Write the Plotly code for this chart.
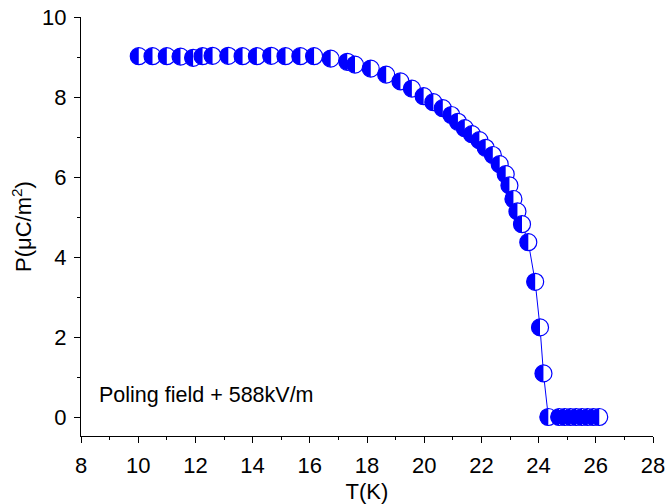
import plotly.graph_objects as go

T = [10.02, 10.5, 11.0, 11.48, 11.92, 12.25, 12.6, 13.15, 13.65, 14.15, 14.65, 15.15,
     15.67, 16.15, 16.73, 17.31, 17.58, 18.13, 18.67, 19.17, 19.57, 19.98, 20.32, 20.65,
     20.95, 21.18, 21.42, 21.67, 21.93, 22.15, 22.4, 22.64, 22.85, 22.98, 23.12, 23.26,
     23.42, 23.64, 23.88, 24.05, 24.17, 24.34, 24.72, 24.92, 25.12, 25.32, 25.52, 25.72,
     25.92, 26.12]
P = [9.02, 9.02, 9.02, 9.01, 8.98, 9.02, 9.03, 9.03, 9.02, 9.02, 9.03, 9.02,
     9.02, 9.02, 8.96, 8.88, 8.81, 8.71, 8.56, 8.39, 8.21, 8.02, 7.87, 7.72,
     7.55, 7.38, 7.22, 7.07, 6.92, 6.73, 6.55, 6.32, 6.07, 5.79, 5.45, 5.14,
     4.82, 4.37, 3.38, 2.24, 1.09, 0.0, 0.0, 0.0, 0.0, 0.0, 0.0, 0.0,
     0.0, 0.0]

x_ticks = [8, 10, 12, 14, 16, 18, 20, 22, 24, 26, 28]
y_ticks = [0, 2, 4, 6, 8, 10]
label_text = "Poling field + 588kV/m"

blue = "#0000ff"
FONT = "Liberation Sans, Arial, sans-serif"
MS = 17  # marker diameter in px

fig = go.Figure()
fig.add_trace(go.Scatter(
    x=T, y=P, mode="lines", line=dict(color=blue, width=1), showlegend=False,
    hoverinfo="skip"))
fig.add_trace(go.Scatter(
    x=T, y=P, mode="markers",
    marker=dict(symbol="circle", size=MS, color="white", line=dict(color=blue, width=1.2)),
    showlegend=False))

# left half of every marker filled blue (pixel-sized path anchored at each data point)
r = MS / 2.0
k = 0.5523 * r
half_path = (f"M 0,{r} C {-k},{r} {-r},{k} {-r},0 "
             f"C {-r},{-k} {-k},{-r} 0,{-r} Z")
shapes = []
for t, p in zip(T, P):
    shapes.append(dict(type="path", xref="x", yref="y", xsizemode="pixel", ysizemode="pixel",
                       xanchor=t, yanchor=p, path=half_path, fillcolor=blue,
                       line=dict(width=0), layer="above"))

axis_common = dict(
    showline=True, linecolor="black", linewidth=1, showgrid=False, zeroline=False,
    ticks="outside", ticklen=6, tickwidth=1, tickcolor="black", automargin=False,
    tickfont=dict(family=FONT, size=22, color="black"),
    ticklabeloverflow="allow", mirror=False,
)
fig.update_layout(
    width=665, height=504,
    margin=dict(l=81, r=12, t=17, b=68),
    paper_bgcolor="white", plot_bgcolor="white",
    font=dict(family=FONT, size=22, color="black"),
    hovermode=False,
    shapes=shapes,
    xaxis=dict(range=[8, 28], tickvals=x_ticks, ticktext=[str(v) for v in x_ticks],
               minor=dict(dtick=1, ticks="outside", ticklen=3, tickcolor="black"),
               ticklabelstandoff=4,
               title=dict(text="T(K)", standoff=10, font=dict(family=FONT, size=22)),
               **axis_common),
    yaxis=dict(range=[-0.475, 10], tickvals=y_ticks, ticktext=[str(v) for v in y_ticks],
               minor=dict(dtick=1, ticks="outside", ticklen=3, tickcolor="black"),
               ticklabelstandoff=3,
               title=dict(text="P(μC/m<sup>2</sup>)", standoff=4, font=dict(family=FONT, size=22)),
               **axis_common),
    annotations=[dict(x=8.557, y=0.55, xref="x", yref="y", text=label_text,
                      showarrow=False, xanchor="left", yanchor="middle",
                      font=dict(family=FONT, size=21.5, color="black"))],
)
fig.write_html("out.html", config={"displayModeBar": False},
               post_script="document.body.style.margin='0';")
